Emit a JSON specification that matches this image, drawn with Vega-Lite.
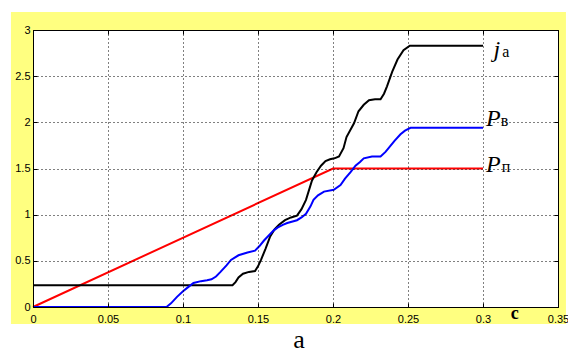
{
  "$schema": "https://vega.github.io/schema/vega-lite/v6.json",
  "width": 525,
  "height": 277,
  "autosize": {"type": "none"},
  "padding": {"left": 33, "top": 30, "right": 10, "bottom": 51},
  "background": "white",
  "config": {
    "view": {"stroke": null, "fill": "white"},
    "axis": {
      "domainColor": "black",
      "domainWidth": 1,
      "tickColor": "black",
      "tickSize": -4,
      "labelFont": "Liberation Sans",
      "labelFontSize": 11,
      "labelColor": "black",
      "gridColor": "black",
      "gridDash": [1, 3],
      "gridOpacity": 1,
      "gridWidth": 1,
      "title": null
    }
  },
  "datasets": {
    "curves": [
      {"series": "P_п", "x": 0, "y": 0},
      {"series": "P_п", "x": 0.2, "y": 1.5},
      {"series": "P_п", "x": 0.3, "y": 1.5},

      {"series": "j_a", "x": 0, "y": 0.235},
      {"series": "j_a", "x": 0.133, "y": 0.235},
      {"series": "j_a", "x": 0.135, "y": 0.27},
      {"series": "j_a", "x": 0.137, "y": 0.32},
      {"series": "j_a", "x": 0.14, "y": 0.36},
      {"series": "j_a", "x": 0.144, "y": 0.38},
      {"series": "j_a", "x": 0.148, "y": 0.39},
      {"series": "j_a", "x": 0.15, "y": 0.44},
      {"series": "j_a", "x": 0.152, "y": 0.51},
      {"series": "j_a", "x": 0.155, "y": 0.63},
      {"series": "j_a", "x": 0.158, "y": 0.76},
      {"series": "j_a", "x": 0.161, "y": 0.84},
      {"series": "j_a", "x": 0.164, "y": 0.89},
      {"series": "j_a", "x": 0.168, "y": 0.94},
      {"series": "j_a", "x": 0.172, "y": 0.97},
      {"series": "j_a", "x": 0.176, "y": 0.99},
      {"series": "j_a", "x": 0.179, "y": 1.06},
      {"series": "j_a", "x": 0.182, "y": 1.16},
      {"series": "j_a", "x": 0.186, "y": 1.37},
      {"series": "j_a", "x": 0.189, "y": 1.46},
      {"series": "j_a", "x": 0.192, "y": 1.53},
      {"series": "j_a", "x": 0.195, "y": 1.58},
      {"series": "j_a", "x": 0.198, "y": 1.6},
      {"series": "j_a", "x": 0.201, "y": 1.61},
      {"series": "j_a", "x": 0.204, "y": 1.63},
      {"series": "j_a", "x": 0.207, "y": 1.72},
      {"series": "j_a", "x": 0.209, "y": 1.84},
      {"series": "j_a", "x": 0.214, "y": 1.99},
      {"series": "j_a", "x": 0.217, "y": 2.12},
      {"series": "j_a", "x": 0.2205, "y": 2.19},
      {"series": "j_a", "x": 0.224, "y": 2.24},
      {"series": "j_a", "x": 0.228, "y": 2.25},
      {"series": "j_a", "x": 0.2317, "y": 2.25},
      {"series": "j_a", "x": 0.234, "y": 2.31},
      {"series": "j_a", "x": 0.236, "y": 2.39},
      {"series": "j_a", "x": 0.2395, "y": 2.55},
      {"series": "j_a", "x": 0.243, "y": 2.68},
      {"series": "j_a", "x": 0.247, "y": 2.78},
      {"series": "j_a", "x": 0.2512, "y": 2.83},
      {"series": "j_a", "x": 0.3, "y": 2.83},

      {"series": "P_в", "x": 0, "y": 0},
      {"series": "P_в", "x": 0.089, "y": 0},
      {"series": "P_в", "x": 0.092, "y": 0.04},
      {"series": "P_в", "x": 0.096, "y": 0.11},
      {"series": "P_в", "x": 0.1, "y": 0.17},
      {"series": "P_в", "x": 0.103, "y": 0.21},
      {"series": "P_в", "x": 0.107, "y": 0.26},
      {"series": "P_в", "x": 0.112, "y": 0.28},
      {"series": "P_в", "x": 0.116, "y": 0.29},
      {"series": "P_в", "x": 0.119, "y": 0.3},
      {"series": "P_в", "x": 0.122, "y": 0.33},
      {"series": "P_в", "x": 0.125, "y": 0.38},
      {"series": "P_в", "x": 0.129, "y": 0.45},
      {"series": "P_в", "x": 0.132, "y": 0.51},
      {"series": "P_в", "x": 0.137, "y": 0.56},
      {"series": "P_в", "x": 0.143, "y": 0.59},
      {"series": "P_в", "x": 0.148, "y": 0.61},
      {"series": "P_в", "x": 0.151, "y": 0.66},
      {"series": "P_в", "x": 0.154, "y": 0.72},
      {"series": "P_в", "x": 0.1605, "y": 0.83},
      {"series": "P_в", "x": 0.163, "y": 0.86},
      {"series": "P_в", "x": 0.1665, "y": 0.89},
      {"series": "P_в", "x": 0.1695, "y": 0.91},
      {"series": "P_в", "x": 0.176, "y": 0.94},
      {"series": "P_в", "x": 0.179, "y": 0.97},
      {"series": "P_в", "x": 0.182, "y": 1.01},
      {"series": "P_в", "x": 0.185, "y": 1.09},
      {"series": "P_в", "x": 0.187, "y": 1.16},
      {"series": "P_в", "x": 0.19, "y": 1.21},
      {"series": "P_в", "x": 0.194, "y": 1.25},
      {"series": "P_в", "x": 0.2005, "y": 1.27},
      {"series": "P_в", "x": 0.205, "y": 1.32},
      {"series": "P_в", "x": 0.208, "y": 1.39},
      {"series": "P_в", "x": 0.2117, "y": 1.46},
      {"series": "P_в", "x": 0.215, "y": 1.53},
      {"series": "P_в", "x": 0.218, "y": 1.57},
      {"series": "P_в", "x": 0.2205, "y": 1.61},
      {"series": "P_в", "x": 0.226, "y": 1.63},
      {"series": "P_в", "x": 0.2317, "y": 1.63},
      {"series": "P_в", "x": 0.235, "y": 1.68},
      {"series": "P_в", "x": 0.238, "y": 1.74},
      {"series": "P_в", "x": 0.241, "y": 1.8},
      {"series": "P_в", "x": 0.245, "y": 1.87},
      {"series": "P_в", "x": 0.248, "y": 1.91},
      {"series": "P_в", "x": 0.2517, "y": 1.94},
      {"series": "P_в", "x": 0.3, "y": 1.94}
    ],
    "notes": [
      {"role": "main", "text": "j", "x": 0.307, "y": 2.708},
      {"role": "sub", "text": "а", "x": 0.3128, "y": 2.708},
      {"role": "main", "text": "P", "x": 0.302, "y": 1.96},
      {"role": "sub", "text": "в", "x": 0.3118, "y": 1.96},
      {"role": "main", "text": "P", "x": 0.302, "y": 1.465},
      {"role": "sub", "text": "п", "x": 0.3125, "y": 1.465},
      {"role": "axis", "text": "c", "x": 0.3185, "y": -0.125},
      {"role": "caption", "text": "a", "x": 0.1773, "y": -0.439}
    ]
  },
  "layer": [
    {
      "data": {"values": [{"part": "frame"}]},
      "mark": {"type": "rect", "color": "#FFFF80"},
      "encoding": {
        "x": {"datum": -0.0147, "type": "quantitative", "scale": {"domain": [0, 0.35], "nice": false, "zero": false}, "axis": null},
        "x2": {"datum": 0.3553},
        "y": {"datum": -0.184, "type": "quantitative", "scale": {"domain": [0, 3], "nice": false, "zero": false}, "axis": null},
        "y2": {"datum": 3.195}
      }
    },
    {
      "data": {"values": [{"part": "plot"}]},
      "mark": {"type": "rect", "color": "white"},
      "encoding": {
        "x": {"datum": 0, "type": "quantitative", "scale": {"domain": [0, 0.35], "nice": false, "zero": false}, "axis": null},
        "x2": {"datum": 0.35},
        "y": {"datum": 0, "type": "quantitative", "scale": {"domain": [0, 3], "nice": false, "zero": false}, "axis": null},
        "y2": {"datum": 3}
      }
    },
    {
      "data": {"name": "curves"},
      "mark": {"type": "line", "strokeWidth": 2, "clip": false},
      "encoding": {
        "x": {
          "field": "x", "type": "quantitative",
          "scale": {"domain": [0, 0.35], "nice": false, "zero": false},
          "axis": {"orient": "bottom", "zindex": 1, "values": [0, 0.05, 0.1, 0.15, 0.2, 0.25, 0.3, 0.35], "format": ".2~f", "grid": true, "labelPadding": 10, "labelFlush": false}
        },
        "y": {
          "field": "y", "type": "quantitative",
          "scale": {"domain": [0, 3], "nice": false, "zero": false},
          "axis": {"orient": "left", "zindex": 1, "values": [0, 0.5, 1, 1.5, 2, 2.5, 3], "format": ".1~f", "grid": true, "labelPadding": 7, "labelFlush": false}
        },
        "color": {
          "field": "series", "type": "nominal",
          "scale": {"domain": ["j_a", "P_в", "P_п"], "range": ["black", "#0000FF", "#FF0000"]},
          "legend": null
        },
        "detail": {"field": "series"}
      }
    },
    {
      "data": {"values": [{"part": "box"}]},
      "mark": {"type": "point", "opacity": 0},
      "encoding": {
        "x": {
          "datum": 0, "type": "quantitative",
          "scale": {"domain": [0, 0.35], "nice": false, "zero": false},
          "axis": {"orient": "top", "zindex": 1, "values": [0, 0.05, 0.1, 0.15, 0.2, 0.25, 0.3, 0.35], "labels": false, "grid": false}
        },
        "y": {
          "datum": 0, "type": "quantitative",
          "scale": {"domain": [0, 3], "nice": false, "zero": false},
          "axis": {"orient": "right", "zindex": 1, "values": [0, 0.5, 1, 1.5, 2, 2.5, 3], "labels": false, "grid": false}
        }
      }
    },
    {
      "data": {"name": "notes"},
      "transform": [{"filter": "datum.role === 'main'"}],
      "mark": {"type": "text", "font": "Liberation Serif", "fontStyle": "italic", "fontSize": 24, "align": "left", "baseline": "alphabetic", "color": "black"},
      "encoding": {
        "x": {"field": "x", "type": "quantitative", "scale": {"domain": [0, 0.35], "nice": false, "zero": false}, "axis": null},
        "y": {"field": "y", "type": "quantitative", "scale": {"domain": [0, 3], "nice": false, "zero": false}, "axis": null},
        "text": {"field": "text"}
      }
    },
    {
      "data": {"name": "notes"},
      "transform": [{"filter": "datum.role === 'sub'"}],
      "mark": {"type": "text", "font": "Liberation Serif", "fontSize": 16, "align": "left", "baseline": "alphabetic", "color": "black"},
      "encoding": {
        "x": {"field": "x", "type": "quantitative", "scale": {"domain": [0, 0.35], "nice": false, "zero": false}, "axis": null},
        "y": {"field": "y", "type": "quantitative", "scale": {"domain": [0, 3], "nice": false, "zero": false}, "axis": null},
        "text": {"field": "text"}
      }
    },
    {
      "data": {"name": "notes"},
      "transform": [{"filter": "datum.role === 'axis'"}],
      "mark": {"type": "text", "font": "Liberation Serif", "fontSize": 18, "fontWeight": "bold", "align": "left", "baseline": "alphabetic", "color": "black"},
      "encoding": {
        "x": {"field": "x", "type": "quantitative", "scale": {"domain": [0, 0.35], "nice": false, "zero": false}, "axis": null},
        "y": {"field": "y", "type": "quantitative", "scale": {"domain": [0, 3], "nice": false, "zero": false}, "axis": null},
        "text": {"field": "text"}
      }
    },
    {
      "data": {"name": "notes"},
      "transform": [{"filter": "datum.role === 'caption'"}],
      "mark": {"type": "text", "font": "Liberation Serif", "fontSize": 26, "align": "center", "baseline": "alphabetic", "color": "black"},
      "encoding": {
        "x": {"field": "x", "type": "quantitative", "scale": {"domain": [0, 0.35], "nice": false, "zero": false}, "axis": null},
        "y": {"field": "y", "type": "quantitative", "scale": {"domain": [0, 3], "nice": false, "zero": false}, "axis": null},
        "text": {"field": "text"}
      }
    }
  ],
  "resolve": {"axis": {"x": "independent", "y": "independent"}}
}
